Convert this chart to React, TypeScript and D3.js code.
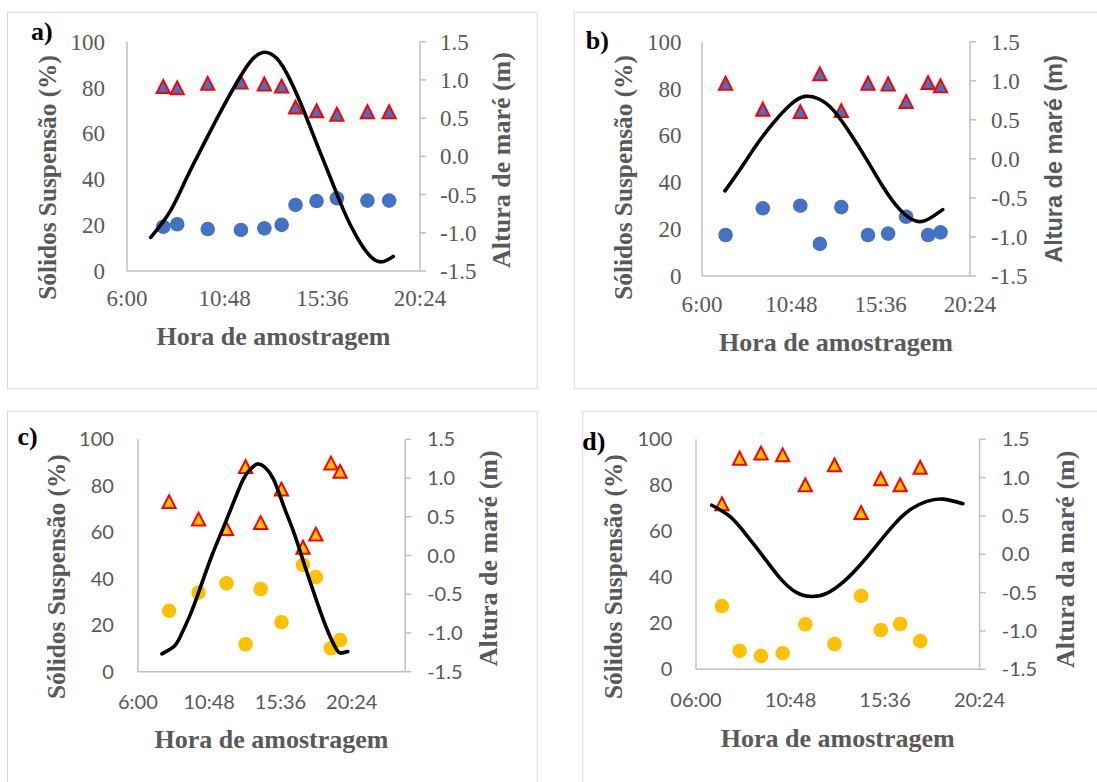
import { useEffect, useRef } from 'react'
import * as d3 from 'd3'

// sampling times (h:mm) and suspended-solids fractions (%) per campaign
const timesA = ['7:47', '8:28', '9:58', '11:36', '12:45', '13:36', '14:17', '15:19', '16:19', '17:49', '18:53']
const triA = [80.4, 79.8, 81.8, 82.3, 81.5, 80.6, 71.4, 69.8, 68.3, 69.4, 69.4]
const dotA = [19.3, 20.4, 18.3, 17.9, 18.6, 20.1, 28.8, 30.5, 31.7, 30.7, 30.7]

const timesB = ['7:16', '9:16', '11:17', '12:20', '13:29', '14:55', '16:00', '16:58', '18:09', '18:49']
const triB = [82.2, 71.1, 70.1, 86.2, 70.5, 82.2, 81.9, 74.4, 82.5, 81.1]
const dotB = [17.5, 28.9, 30.0, 13.7, 29.4, 17.5, 18.1, 25.3, 17.5, 18.6]

const timesC = ['8:06', '10:05', '11:58', '13:15', '14:16', '15:40', '17:07', '17:59', '19:00', '19:37']
const triC = [73.1, 65.6, 61.5, 88.2, 64.1, 78.5, 53.5, 59.1, 89.7, 86.1]
const dotC = [26.2, 34.0, 38.0, 11.8, 35.6, 21.3, 46.0, 40.7, 10.1, 13.6]

const timesD = ['7:19', '8:13', '9:18', '10:24', '11:33', '13:02', '14:23', '15:23', '16:22', '17:23']
const triD = [71.9, 91.7, 93.9, 93.2, 80.1, 88.8, 68.1, 82.8, 80.1, 87.7]
const dotD = [27.5, 8.0, 5.8, 7.0, 19.6, 11.0, 31.9, 17.1, 19.7, 12.3]

// tide height (m)
const tideTimesA = ['7:10', '8:07', '8:56', '9:45', '10:34', '11:23', '12:02', '12:40', '13:22', '14:01', '14:40', '15:19', '15:59', '16:38', '17:17', '17:56', '18:31', '19:05']
const tideA = [-1.06, -0.72, -0.28, 0.15, 0.57, 0.96, 1.23, 1.36, 1.28, 1.0, 0.61, 0.17, -0.27, -0.70, -1.05, -1.30, -1.38, -1.31]

const tideTimesB = ['7:14', '8:02', '8:56', '9:50', '10:44', '11:32', '12:20', '13:04', '13:57', '14:51', '15:44', '16:38', '17:32', '18:15', '18:56']
const tideB = [-0.41, -0.14, 0.18, 0.46, 0.69, 0.80, 0.76, 0.62, 0.33, -0.01, -0.36, -0.65, -0.80, -0.76, -0.65]

const tideTimesC = ['7:37', '8:24', '8:51', '9:32', '10:05', '10:59', '11:53', '12:55', '13:28', '14:02', '14:36', '15:10', '15:50', '16:31', '17:11', '17:52', '18:40', '19:20', '19:40', '20:08']
const tideC = [-1.27, -1.18, -1.05, -0.76, -0.48, 0.0, 0.42, 0.91, 1.09, 1.18, 1.13, 0.97, 0.63, 0.29, -0.10, -0.49, -0.92, -1.20, -1.26, -1.24]

const tideTimesD = ['6:48', '7:44', '8:34', '9:25', '10:16', '11:07', '11:53', '12:38', '13:29', '14:20', '15:11', '16:02', '16:52', '17:43', '18:34', '19:33']
const tideD = [0.64, 0.49, 0.25, -0.03, -0.31, -0.50, -0.55, -0.51, -0.36, -0.14, 0.12, 0.38, 0.58, 0.69, 0.72, 0.66]

const hourTicks = [6, 10.8, 15.6, 20.4]
const leftTicks = [0, 20, 40, 60, 80, 100]
const rightTicks = [-1.5, -1, -0.5, 0, 0.5, 1, 1.5]

const BLUE = '#4472C4'
const GOLD = '#FFC000'
const RED = '#FF0000'
const GREY_TEXT = '#595959'
const AXIS = '#BFBFBF'
const SERIF = '"Liberation Serif", "Times New Roman", serif'
const SANS = '"Liberation Sans", Arial, sans-serif'
const LATO = 'Lato, "Liberation Sans", sans-serif'

const toHour = (s) => {
  const [h, m] = s.split(':').map(Number)
  return h + m / 60
}

const panels = [
  {
    tag: 'a)', tagX: 31, tagY: 40,
    frame: [7, 11.7, 536.7, 388.3],
    left: 127, right: 420, top: 41.7, bottom: 271, xMax: 20.4,
    times: timesA, tri: triA, dot: dotA, tideT: tideTimesA, tide: tideA,
    triFill: BLUE, dotFill: BLUE,
    tickFont: SERIF, tickSize: 23, pad2: false,
    leftPad: 22, rightPad: 20, xLabelY: 297.5,
    titleX: 273.5, titleY: 345,
    yTitleX: 55.5, yTitleY: 177.5,
    rTitle: 'Altura de maré (m)', rTitleX: 510.4, rTitleY: 160, rFont: SERIF, rSize: 26,
  },
  {
    tag: 'b)', tagX: 585.7, tagY: 49,
    frame: [573.7, 11.7, 1120, 388.3],
    left: 702, right: 970, top: 41.7, bottom: 276, xMax: 20.4,
    times: timesB, tri: triB, dot: dotB, tideT: tideTimesB, tide: tideB,
    triFill: BLUE, dotFill: BLUE,
    tickFont: SERIF, tickSize: 23, pad2: false,
    leftPad: 20.4, rightPad: 21, xLabelY: 303.5,
    titleX: 836, titleY: 350.7,
    yTitleX: 631.6, yTitleY: 177.5,
    rTitle: 'Altura de maré (m)', rTitleX: 1062, rTitleY: 159, rFont: SANS, rSize: 23.5,
  },
  {
    tag: 'c)', tagX: 17.5, tagY: 445,
    frame: [7, 410.7, 536.7, 800],
    left: 137.9, right: 405.2, top: 439.3, bottom: 671.7, xMax: 24,
    times: timesC, tri: triC, dot: dotC, tideT: tideTimesC, tide: tideC,
    triFill: GOLD, dotFill: GOLD,
    tickFont: LATO, tickSize: 20, pad2: false,
    leftPad: 24, rightPad: 22, xLabelY: 701.5,
    titleX: 271.5, titleY: 748.3,
    yTitleX: 64.9, yTitleY: 576.7,
    rTitle: 'Altura de maré (m)', rTitleX: 496.5, rTitleY: 558.3, rFont: SERIF, rSize: 26,
  },
  {
    tag: 'd)', tagX: 582.3, tagY: 450,
    frame: [582.3, 410.7, 1120, 800],
    left: 696, right: 979.6, top: 439.3, bottom: 669.3, xMax: 20.4,
    times: timesD, tri: triD, dot: dotD, tideT: tideTimesD, tide: tideD,
    triFill: GOLD, dotFill: GOLD,
    tickFont: LATO, tickSize: 20, pad2: true,
    leftPad: 23.7, rightPad: 22.2, xLabelY: 700,
    titleX: 837.8, titleY: 746.7,
    yTitleX: 622, yTitleY: 576.7,
    rTitle: 'Altura da maré (m)', rTitleX: 1074, rTitleY: 559.3, rFont: SERIF, rSize: 26,
  },
]

function drawPanel(svg, p) {
  const g = svg.append('g')

  g.append('rect')
    .attr('x', p.frame[0] + 0.5)
    .attr('y', p.frame[1] + 0.5)
    .attr('width', p.frame[2] - p.frame[0])
    .attr('height', p.frame[3] - p.frame[1])
    .attr('fill', 'none')
    .attr('stroke', '#D9D9D9')
    .attr('stroke-width', 1)

  const x = d3.scaleLinear().domain([6, p.xMax]).range([p.left, p.right])
  const yL = d3.scaleLinear().domain([0, 100]).range([p.bottom, p.top])
  const yR = d3.scaleLinear().domain([-1.5, 1.5]).range([p.bottom, p.top])

  const fmt = (h) => {
    const mins = Math.round(h * 60)
    const hh = Math.floor(mins / 60)
    const mm = String(mins % 60).padStart(2, '0')
    return `${p.pad2 ? String(hh).padStart(2, '0') : hh}:${mm}`
  }

  const tickText = (sel) => sel
    .attr('font-family', p.tickFont)
    .attr('font-size', p.tickSize)
    .attr('fill', GREY_TEXT)
    .attr('dy', '0.35em')

  // axis lines
  const axes = g.append('g').attr('stroke', AXIS).attr('stroke-width', 1.5)
  axes.append('line').attr('x1', p.left).attr('x2', p.left).attr('y1', yL(100)).attr('y2', yL(0))
  axes.append('line').attr('x1', p.right).attr('x2', p.right).attr('y1', yR(1.5)).attr('y2', yR(-1.5))
  axes.append('line').attr('x1', p.left).attr('x2', p.right).attr('y1', p.bottom).attr('y2', p.bottom)
  axes.selectAll('.rtick')
    .data(rightTicks)
    .join('line')
    .attr('class', 'rtick')
    .attr('x1', p.right).attr('x2', p.right + 6)
    .attr('y1', (d) => yR(d)).attr('y2', (d) => yR(d))

  // tick labels
  g.append('g').selectAll('text')
    .data(leftTicks)
    .join('text')
    .attr('x', p.left - p.leftPad)
    .attr('y', (d) => yL(d))
    .attr('text-anchor', 'end')
    .call(tickText)
    .text((d) => d)

  g.append('g').selectAll('text')
    .data(rightTicks)
    .join('text')
    .attr('x', p.right + p.rightPad)
    .attr('y', (d) => yR(d))
    .attr('text-anchor', 'start')
    .call(tickText)
    .text((d) => d.toFixed(1))

  g.append('g').selectAll('text')
    .data(hourTicks)
    .join('text')
    .attr('x', (d) => x(d))
    .attr('y', p.xLabelY)
    .attr('text-anchor', 'middle')
    .call(tickText)
    .text(fmt)

  // markers
  const pts = p.times.map((t, i) => ({ t: toHour(t), tri: p.tri[i], dot: p.dot[i] }))

  g.append('g').selectAll('circle')
    .data(pts)
    .join('circle')
    .attr('cx', (d) => x(d.t))
    .attr('cy', (d) => yL(d.dot))
    .attr('r', 7.3)
    .attr('fill', p.dotFill)

  const s = 6.6
  g.append('g').selectAll('path')
    .data(pts)
    .join('path')
    .attr('transform', (d) => `translate(${x(d.t)},${yL(d.tri)})`)
    .attr('d', `M0,${-s}L${s},${s * 0.95}L${-s},${s * 0.95}Z`)
    .attr('fill', p.triFill)
    .attr('stroke', RED)
    .attr('stroke-width', 2)

  // tide curve
  const tidePts = p.tideT.map((t, i) => ({ t: toHour(t), v: p.tide[i] }))
  const line = d3.line()
    .x((d) => x(d.t))
    .y((d) => yR(d.v))
    .curve(d3.curveNatural)
  g.append('path')
    .datum(tidePts)
    .attr('d', line)
    .attr('fill', 'none')
    .attr('stroke', '#000')
    .attr('stroke-width', 3.6)
    .attr('stroke-linecap', 'round')

  // titles
  const title = (sel, family, size) => sel
    .attr('text-anchor', 'middle')
    .attr('font-family', family)
    .attr('font-weight', 'bold')
    .attr('font-size', size)
    .attr('fill', GREY_TEXT)

  g.append('text')
    .attr('x', p.titleX)
    .attr('y', p.titleY)
    .call(title, SERIF, 26)
    .text('Hora de amostragem')

  g.append('text')
    .attr('transform', `translate(${p.yTitleX},${p.yTitleY}) rotate(-90)`)
    .call(title, SERIF, 25.3)
    .text('Sólidos Suspensão (%)')

  g.append('text')
    .attr('transform', `translate(${p.rTitleX},${p.rTitleY}) rotate(-90)`)
    .call(title, p.rFont, p.rSize)
    .text(p.rTitle)

  g.append('text')
    .attr('x', p.tagX)
    .attr('y', p.tagY)
    .attr('font-family', SERIF)
    .attr('font-weight', 'bold')
    .attr('font-size', 26)
    .attr('fill', '#000')
    .text(p.tag)
}

export default function App() {
  const svgRef = useRef(null)

  useEffect(() => {
    const svg = d3.select(svgRef.current)
    svg.selectAll('*').remove()
    svg.append('rect').attr('width', 1097).attr('height', 782).attr('fill', '#fff')
    panels.forEach((p) => drawPanel(svg, p))
  }, [])

  return (
    <svg
      ref={svgRef}
      width={1097}
      height={782}
      style={{ position: 'absolute', left: 0, top: 0, display: 'block' }}
    />
  )
}
